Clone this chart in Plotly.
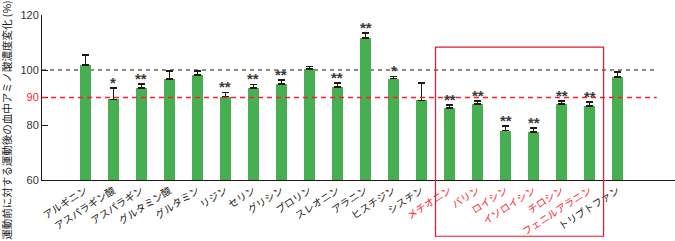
import plotly.graph_objects as go

amino_acids = ["アルギニン", "アスパラギン酸", "アスパラギン", "グルタミン酸", "グルタミン",
               "リジン", "セリン", "グリシン", "プロリン", "スレオニン", "アラニン",
               "ヒスチジン", "シスチン", "メチオニン", "バリン", "ロイシン", "イソロイシン",
               "チロシン", "フェニルアラニン", "トリプトファン"]
values = [101.9, 89.3, 93.5, 96.8, 98.2, 90.3, 93.4, 95.0, 100.4, 93.75, 111.65,
          96.9, 89.0, 86.1, 87.6, 78.0, 77.4, 87.6, 87.0, 97.4]
err_top = [105.4, 93.4, 94.9, 99.6, 99.6, 91.9, 94.8, 96.3, 101.2, 95.2, 113.4,
           97.7, 95.2, 87.2, 88.7, 79.6, 78.9, 88.7, 88.3, 99.3]
signif = ["", "*", "**", "", "", "**", "**", "**", "", "**", "**",
          "*", "", "**", "**", "**", "**", "**", "**", ""]
highlight = [False] * 13 + [True] * 6 + [False]

y_ticks = [60, 80, 90, 100, 120]

RED = "#ff1a2e"
DARK = "#231815"
GREEN = "#47af52"

x = list(range(len(amino_acids)))
ticktext = [f'<span style="color:{RED}">{n}</span>' if h else n for n, h in zip(amino_acids, highlight)]
ytext = [f'<span style="color:{RED}">{v}</span>' if v == 90 else str(v) for v in y_ticks]

fig = go.Figure()
fig.add_trace(go.Bar(
    x=x, y=values, width=0.39, marker=dict(color=GREEN, line=dict(width=0)),
    error_y=dict(type="data", symmetric=False,
                 array=[e - v for e, v in zip(err_top, values)],
                 arrayminus=[0] * len(values),
                 color=DARK, thickness=1.5, width=3.5),
    showlegend=False, hoverinfo="skip"))

# reference lines
fig.add_shape(type="line", xref="x", yref="y", x0=-1.55, x1=20.4, y0=100, y1=100,
              line=dict(color="#666666", width=1.3, dash="4px,4px"), layer="below")
fig.add_shape(type="line", xref="x", yref="y", x0=-1.55, x1=20.4, y0=90, y1=90,
              line=dict(color=RED, width=1.5, dash="5px,4px"), layer="above")
# highlight box
fig.add_shape(type="rect", xref="x", yref="paper", x0=12.5, x1=18.5, y0=-0.341, y1=0.805,
              line=dict(color="#e8192c", width=1.2), fillcolor="rgba(0,0,0,0)")

for i, s in enumerate(signif):
    if s:
        fig.add_annotation(x=i, y=err_top[i], text=f"<b>{s}</b>", showarrow=False, xref="x", yref="y",
                           yanchor="bottom", yshift=-5,
                           font=dict(family="Liberation Sans, Arial", size=15, color="#3e3a39"))

fig.add_annotation(xref="paper", yref="paper", x=-0.0553, y=0.365, xanchor="center", yanchor="middle",
                   text="運動前に対する運動後の血中アミノ酸濃度変化 (%)", textangle=-90, showarrow=False,
                   font=dict(family="Noto Sans CJK JP", size=10.5, color=DARK))

fig.update_layout(
    width=675, height=241,
    margin=dict(l=42, r=0, t=15, b=61),
    plot_bgcolor="white", paper_bgcolor="white",
    bargap=0,
    xaxis=dict(range=[-1.55, 21.05], tickvals=x, ticktext=ticktext, tickangle=-33,
               showline=True, linecolor=DARK, linewidth=1, ticks="", showgrid=False, zeroline=False,
               tickfont=dict(family="Noto Sans CJK JP", size=10, color=DARK)),
    yaxis=dict(range=[60, 120], tickvals=y_ticks, ticktext=ytext,
               showline=True, linecolor=DARK, linewidth=1, ticks="inside", ticklen=6,
               tickcolor=DARK, showgrid=False, zeroline=False,
               tickfont=dict(family="Liberation Sans, Arial", size=11, color="#333333")),
)

fig.write_html("out.html")
